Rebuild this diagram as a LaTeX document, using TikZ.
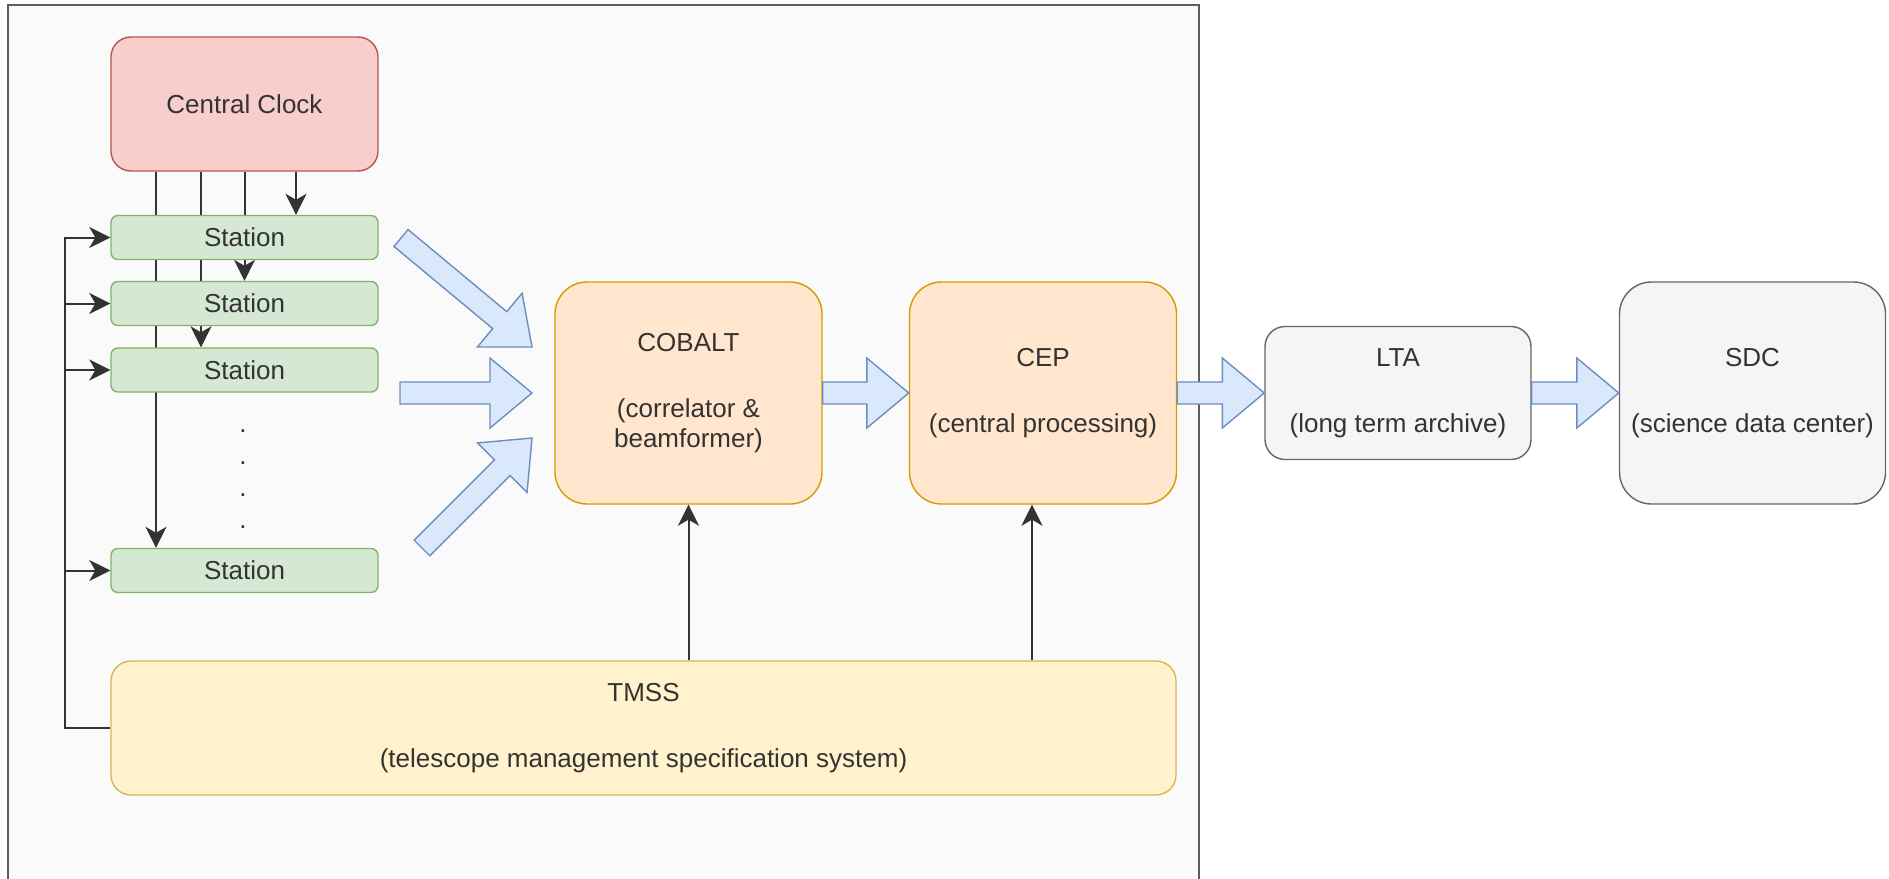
\documentclass[tikz,border=0pt]{standalone}
\usepackage{fontspec}
\setmainfont{Liberation Sans}
\usetikzlibrary{arrows.meta,calc}

\definecolor{clockfill}{HTML}{F8CECC}
\definecolor{clockline}{HTML}{B85450}
\definecolor{stationfill}{HTML}{D5E8D4}
\definecolor{stationline}{HTML}{82B366}
\definecolor{procfill}{HTML}{FFE6CC}
\definecolor{procline}{HTML}{D79B00}
\definecolor{tmssfill}{HTML}{FFF2CC}
\definecolor{tmssline}{HTML}{D6B656}
\definecolor{archfill}{HTML}{F5F5F5}
\definecolor{archline}{HTML}{666666}
\definecolor{flowfill}{HTML}{DAE8FC}
\definecolor{flowline}{HTML}{6C8EBF}
\definecolor{ink}{HTML}{333333}
\definecolor{panel}{HTML}{FAFAFA}

\pgfdeclarelayer{back}
\pgfdeclarelayer{wires}
\pgfsetlayers{back,wires,main}

% fat data-flow arrow from #1 (tail) to #2 (tip)
\newcommand\fatarrow[2]{%
	\coordinate (fa-base) at ($(#2)!42pt!(#1)$);
	\draw[flow] ($(#1)!11pt!90:(#2)$) -- ($(fa-base)!11pt!90:(#2)$)
	-- ($(fa-base)!35pt!90:(#2)$) -- (#2) -- ($(fa-base)!35pt!-90:(#2)$)
	-- ($(fa-base)!11pt!-90:(#2)$) -- ($(#1)!11pt!-90:(#2)$) -- cycle;
}

\begin{document}
\begin{tikzpicture}[x=1pt, y=-1pt,
	font=\fontsize{26}{30}\selectfont, text=ink,
	box/.style={draw, line width=1.4pt, align=center, inner sep=0pt},
	clockbox/.style={box, fill=clockfill, draw=clockline, minimum width=267pt, minimum height=134pt, rounded corners=20pt},
	stationbox/.style={box, fill=stationfill, draw=stationline, minimum width=267pt, minimum height=44pt, rounded corners=7pt},
	procbox/.style={box, fill=procfill, draw=procline, minimum width=267pt, minimum height=222pt, rounded corners=32pt},
	tmssbox/.style={box, fill=tmssfill, draw=tmssline, minimum width=1065pt, minimum height=134pt, rounded corners=20pt},
	archbox/.style={box, fill=archfill, draw=archline, minimum width=266pt, rounded corners=#1},
	link/.style={draw=ink, line width=2pt, -{Stealth[length=21pt, width=21pt, inset=6pt]}},
	flow/.style={fill=flowfill, draw=flowline, line width=1.4pt, line join=miter}]

	\path[use as bounding box] (0,0) rectangle (1889,878);

	% Observatory panel
	\begin{pgfonlayer}{back}
		\draw[draw=ink!80, fill=panel, line width=1.2pt] (8,5) rectangle (1199,900);
	\end{pgfonlayer}

	% Clock and stations
	\node[clockbox] (clock) at (244.5,104) {Central Clock};
	\node[stationbox] (s1) at (244.5,237.5) {Station};
	\node[stationbox] (s2) at (244.5,303.5) {Station};
	\node[stationbox] (s3) at (244.5,370) {Station};
	\node[stationbox] (s4) at (244.5,570.5) {Station};
	\node[align=center, inner sep=0pt, anchor=north, font=\fontsize{26}{32}\selectfont] (dots) at (243,430) {.\\.\\.\\.};

	% Processing
	\node[procbox] (cobalt) at (688.5,393) {COBALT\\[36pt](correlator \&\\beamformer)};
	\node[procbox] (cep) at (1043,393) {CEP\\[36pt](central processing)};
	\node[tmssbox] (tmss) at (643.5,728) {TMSS\\[36pt](telescope management specification system)};

	% Archive
	\node[archbox=20pt, minimum height=133pt] (lta) at (1398,393) {LTA\\[36pt](long term archive)};
	\node[archbox=32pt, minimum height=222pt] (sdc) at (1752.5,393) {SDC\\[36pt](science data center)};

	% Clock distribution
	\begin{pgfonlayer}{wires}
		\draw[link] ([xshift=-88.5pt]clock.south) -- ([xshift=-88.5pt]s4.north);
		\draw[link] ([xshift=-43.5pt]clock.south) -- ([xshift=-43.5pt]s3.north);
		\draw[link] (clock.south) -- (s2.north);
		\draw[link] ([xshift=51.5pt]clock.south) -- ([xshift=51.5pt]s1.north);
	\end{pgfonlayer}

	% Control from TMSS
	\coordinate (bus) at ([xshift=-45pt]tmss.west);
	\draw[link] (tmss.west) -- (bus) |- (s1.west);
	\foreach \s in {s2,s3,s4}
		\draw[link] (bus |- \s.west) -- (\s.west);
	\coordinate (cepin) at ([xshift=-11pt]cep.south);
	\draw[link] (tmss.north -| cobalt.south) -- (cobalt.south);
	\draw[link] (tmss.north -| cepin) -- (cepin);

	% Data flow
	\coordinate (tail1) at (401,238);
	\coordinate (tip1) at (532,347);
	\coordinate (tail2) at (400,393);
	\coordinate (tip2) at (532,393);
	\coordinate (tail3) at (422,548);
	\coordinate (tip3) at (532,438);
	\fatarrow{tail1}{tip1}
	\fatarrow{tail2}{tip2}
	\fatarrow{tail3}{tip3}
	\fatarrow{cobalt.east}{cep.west}
	\fatarrow{cep.east}{lta.west}
	\fatarrow{lta.east}{sdc.west}

\end{tikzpicture}
\end{document}
